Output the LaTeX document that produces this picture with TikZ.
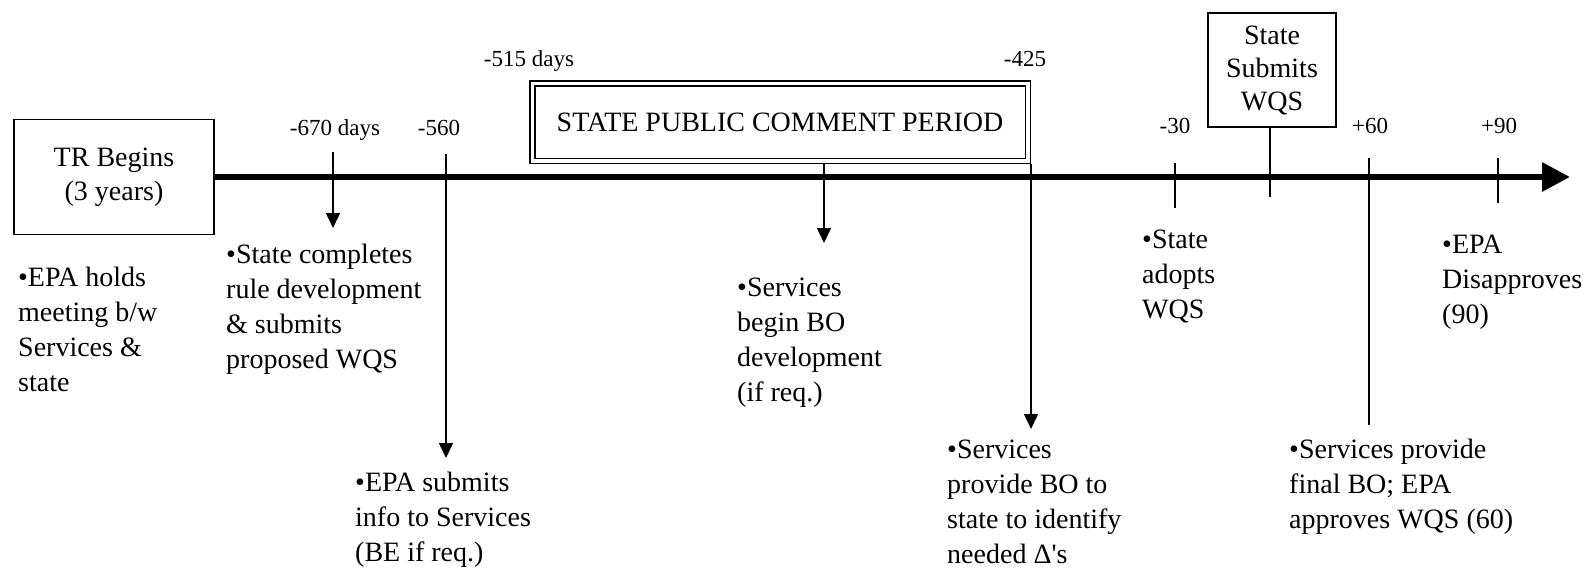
\documentclass[tikz,border=0pt]{standalone}
\usepackage{fontspec}
\setmainfont{Liberation Serif}
\usetikzlibrary{arrows.meta}
\newcommand{\blk}[1]{\begin{tabular}[t]{@{}l@{}}#1\end{tabular}}
\begin{document}
\begin{tikzpicture}[x=1pt,y=-1pt,
  body/.style={anchor=base west, inner sep=0pt, font=\fontsize{28}{35}\selectfont},
  lbl/.style={anchor=base, inner sep=0pt, font=\fontsize{23}{27}\selectfont},
  boxnode/.style={draw, line width=1.5pt, inner sep=0pt, align=center},
  conn/.style={line width=1.5pt, -{Triangle[length=15pt,width=14pt]}},
  tickline/.style={line width=1.5pt},
  axisline/.style={line width=6pt, -{Triangle[length=28pt,width=28pt]}}]
\fill[white] (0,0) rectangle (1593,568);
\useasboundingbox (0,0) rectangle (1593,568);

% boxes
\node[boxnode, minimum width=200pt, minimum height=115pt,
      font=\fontsize{28}{34}\selectfont] (tr) at (114,177) {TR Begins\\(3 years)};
\node[boxnode, double, double distance=3.5pt, minimum width=495.5pt, minimum height=77.5pt,
      font=\fontsize{28}{34}\selectfont] (pc) at (780,122) {STATE PUBLIC COMMENT PERIOD};
\node[boxnode, minimum width=128pt, minimum height=114pt,
      font=\fontsize{28}{33}\selectfont] (ss) at (1272,70) {State\\Submits\\WQS};

% axis
\coordinate (axend) at (1570,177);
\draw[axisline] (tr.east) -- (axend);

% day labels
\node[lbl] (l670) at (335,135) {-670 days};
\node[lbl] (l560) at (439,135) {-560};
\node[lbl] (l515) at (529,66) {-515 days};
\node[lbl] (l425) at (1025,66) {-425};
\node[lbl] (l30) at (1175,133) {-30};
\node[lbl] (l60) at (1370,133) {+60};
\node[lbl] (l90) at (1499,133) {+90};

% connectors
\coordinate (a1s) at (333,152); \coordinate (a1e) at (333,228);
\coordinate (a2s) at (446,154); \coordinate (a2e) at (446,458);
\coordinate (a3s) at (824,164); \coordinate (a3e) at (824,243);
\coordinate (a4s) at (1031,164); \coordinate (a4e) at (1031,429);
\coordinate (t30s) at (1175,163); \coordinate (t30e) at (1175,208);
\coordinate (sse) at (1270,197);
\coordinate (t60s) at (1369,158); \coordinate (t60e) at (1369,425);
\coordinate (t90s) at (1498,158); \coordinate (t90e) at (1498,203);

\draw[conn] (a1s) -- (a1e);
\draw[conn] (a2s) -- (a2e);
\draw[conn] (a3s) -- (a3e);
\draw[conn] (a4s) -- (a4e);
\draw[tickline] (t30s) -- (t30e);
\draw[tickline] (ss.south -| sse) -- (sse);
\draw[tickline] (t60s) -- (t60e);
\draw[tickline] (t90s) -- (t90e);

% body texts
\node[body] (ep) at (18,286) {\blk{•EPA holds\\meeting b/w\\Services \&\\state}};
\node[body] (sc) at (226,263) {\blk{•State completes\\rule development\\\& submits\\proposed WQS}};
\node[body] (es) at (355,491) {\blk{•EPA submits\\info to Services\\(BE if req.)}};
\node[body] (sb) at (737,296) {\blk{•Services\\begin BO\\development\\(if req.)}};
\node[body] (sp) at (947,458) {\blk{•Services\\provide BO to\\state to identify\\needed Δ\textquotesingle s}};
\node[body] (sa) at (1142,248) {\blk{•State\\adopts\\WQS}};
\node[body] (sf) at (1289,458) {\blk{•Services provide\\final BO; EPA\\approves WQS (60)}};
\node[body] (ed) at (1442,253) {\blk{•EPA\\Disapproves\\(90)}};
\end{tikzpicture}
\end{document}
